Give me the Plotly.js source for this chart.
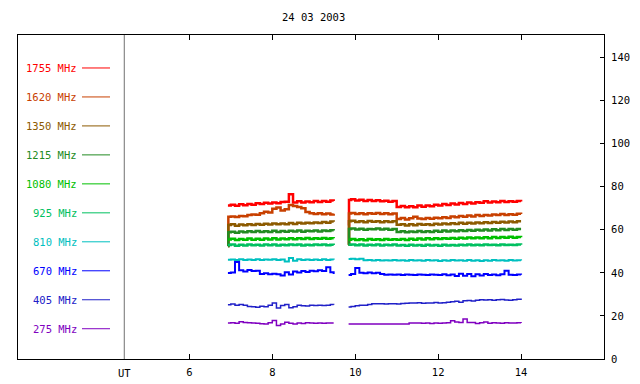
<!DOCTYPE html>
<html>
<head>
<meta charset="utf-8">
<script src="https://cdn.plot.ly/plotly-3.0.1.min.js"></script>
<style>html,body{margin:0;padding:0;background:#fff}#chart{width:640px;height:384px}</style>
</head>
<body>
<div id="chart"></div>
<script>
// Time (UT hours); null separates the two observing segments
const time = [6.93, 6.94, 7.0, 7.1, 7.2, 7.3, 7.4, 7.5, 7.6, 7.7, 7.8, 7.9, 8.0, 8.1, 8.2, 8.3, 8.4, 8.5, 8.6, 8.7, 8.8, 8.9, 9.0, 9.1, 9.2, 9.3, 9.4, 9.48,
  null,
  9.84, 9.85, 9.9, 10.0, 10.1, 10.2, 10.3, 10.4, 10.5, 10.6, 10.7, 10.8, 10.9, 11.0, 11.1, 11.2, 11.3, 11.4, 11.5, 11.6, 11.7, 11.8, 11.9, 12.0, 12.1, 12.2, 12.3, 12.4, 12.5, 12.6, 12.7, 12.8, 12.9, 13.0, 13.1, 13.2, 13.3, 13.4, 13.5, 13.6, 13.7, 13.8, 13.9, 14.0];

const freqLabels = ["1755 MHz", "1620 MHz", "1350 MHz", "1215 MHz", "1080 MHz", "925 MHz", "810 MHz", "670 MHz", "405 MHz", "275 MHz"];

const f1755 = [71.3, 71.3, 71.6, 71.1, 71.8, 71.4, 72.0, 71.6, 72.3, 71.9, 72.5, 72.2, 72.7, 72.3, 72.9, 73.0, 76.5, 72.6, 73.2, 72.7, 73.1, 72.8, 73.3, 72.9, 73.4, 73.0, 73.6, 73.4,
  null,
  62.0, 73.8, 74.2, 73.6, 73.9, 73.4, 73.8, 73.3, 73.7, 73.2, 73.5, 73.0, 73.4, 70.6, 71.0, 70.4, 70.9, 70.5, 71.2, 70.7, 71.3, 70.9, 71.6, 71.2, 71.9, 71.5, 72.2, 71.7, 72.4, 71.9, 72.6, 72.2, 72.8, 72.5, 73.2, 72.7, 73.1, 72.8, 73.3, 72.9, 73.2, 73.0, 73.4, 73.1];
const f1620 = [52.5, 66.0, 66.2, 65.9, 66.4, 66.3, 66.8, 67.1, 67.0, 67.6, 68.4, 68.0, 69.8, 70.3, 68.9, 69.5, 71.5, 71.0, 70.6, 70.0, 68.2, 67.6, 67.3, 67.6, 67.2, 67.5, 67.1, 67.4,
  null,
  53.0, 67.5, 67.8, 67.3, 67.7, 67.2, 67.6, 67.4, 67.8, 67.3, 67.6, 67.2, 67.5, 65.0, 65.4, 64.8, 65.3, 66.0, 65.2, 65.0, 65.4, 65.1, 65.6, 65.3, 65.8, 65.5, 66.1, 65.8, 66.4, 66.0, 66.6, 66.2, 66.8, 66.4, 66.9, 66.6, 67.1, 66.8, 67.3, 66.9, 67.2, 67.0, 67.4, 67.3];
const f1350 = [52.5, 62.2, 62.5, 61.9, 62.4, 62.1, 62.6, 62.2, 62.7, 62.3, 62.8, 62.4, 62.9, 62.5, 62.9, 62.6, 63.1, 62.7, 63.2, 62.9, 63.3, 63.0, 63.4, 63.1, 63.6, 63.2, 63.8, 63.7,
  null,
  53.0, 63.9, 64.2, 63.6, 64.0, 63.5, 64.1, 63.7, 63.9, 63.5, 64.0, 63.6, 63.9, 62.3, 62.6, 62.0, 62.5, 62.1, 62.7, 62.3, 62.6, 62.2, 62.8, 62.4, 62.9, 62.5, 63.0, 62.7, 63.2, 62.8, 63.3, 62.9, 63.4, 63.0, 63.5, 63.1, 63.6, 63.2, 63.7, 63.4, 63.8, 63.5, 63.9, 63.9];
const f1215 = [52.5, 58.8, 59.1, 58.6, 59.2, 58.8, 59.3, 58.9, 59.4, 58.9, 59.3, 59.0, 59.5, 59.0, 59.4, 59.1, 59.5, 59.2, 59.6, 59.1, 59.5, 59.3, 59.7, 59.2, 59.6, 59.4, 59.8, 59.7,
  null,
  53.0, 60.3, 60.6, 60.1, 60.5, 60.0, 60.4, 60.2, 60.6, 60.1, 60.5, 60.0, 60.4, 59.0, 59.3, 58.8, 59.2, 58.9, 59.4, 59.0, 59.3, 58.9, 59.5, 59.1, 59.6, 59.2, 59.7, 59.3, 59.8, 59.4, 59.9, 59.5, 60.0, 59.6, 60.1, 59.7, 60.2, 59.8, 60.3, 59.9, 60.4, 60.0, 60.3, 60.3];
const f1080 = [55.5, 55.5, 55.8, 55.2, 55.7, 55.3, 55.9, 55.4, 55.8, 55.3, 55.9, 55.5, 56.0, 55.5, 55.9, 55.6, 56.1, 55.6, 56.0, 55.7, 56.2, 55.7, 56.1, 55.8, 56.2, 55.8, 56.1, 56.0,
  null,
  55.4, 55.4, 55.7, 55.2, 55.6, 55.1, 55.7, 55.3, 55.6, 55.2, 55.7, 55.3, 55.6, 55.3, 55.7, 55.2, 55.8, 55.4, 55.9, 55.5, 56.0, 55.6, 56.0, 55.7, 56.1, 55.8, 56.2, 55.8, 56.3, 55.9, 56.4, 56.0, 56.4, 56.1, 56.5, 56.1, 56.6, 56.2, 56.6, 56.3, 56.7, 56.3, 56.6, 56.5];
const f925 = [52.9, 52.9, 53.1, 52.6, 53.0, 52.7, 53.1, 52.8, 53.0, 52.7, 53.2, 52.8, 53.1, 52.7, 53.0, 52.8, 53.2, 52.9, 53.1, 52.7, 53.0, 52.8, 53.2, 52.9, 53.1, 52.8, 53.0, 52.9,
  null,
  53.0, 53.0, 53.2, 52.8, 53.1, 52.7, 53.0, 52.8, 53.1, 52.7, 53.0, 52.8, 53.1, 52.7, 52.9, 52.6, 53.0, 52.7, 52.9, 52.6, 53.0, 52.7, 52.9, 52.6, 53.0, 52.7, 52.9, 52.7, 53.0, 52.8, 53.1, 52.8, 53.0, 52.8, 53.1, 52.9, 53.0, 52.8, 53.1, 52.9, 53.0, 52.9, 53.1, 53.0];
const f810 = [46.1, 46.1, 46.2, 46.0, 46.3, 45.9, 46.2, 46.0, 46.3, 46.0, 46.2, 46.1, 46.3, 45.9, 46.2, 45.3, 46.9, 45.6, 46.3, 46.0, 46.2, 45.9, 46.2, 46.0, 46.3, 46.0, 46.2, 46.1,
  null,
  46.4, 46.4, 46.5, 46.3, 46.5, 45.8, 45.9, 45.7, 45.9, 45.7, 45.8, 45.7, 45.9, 45.7, 45.8, 45.6, 45.9, 45.7, 45.8, 45.6, 45.9, 45.7, 45.8, 45.5, 45.8, 45.6, 45.9, 45.7, 45.8, 45.6, 45.9, 45.6, 45.8, 45.5, 45.8, 45.6, 45.9, 45.7, 45.8, 45.6, 45.9, 45.7, 45.8, 45.7];
const f670 = [39.9, 39.9, 40.2, 45.0, 41.2, 40.6, 41.3, 40.8, 41.0, 39.4, 39.8, 39.3, 39.6, 39.3, 38.8, 40.3, 39.2, 40.6, 40.1, 40.8, 40.4, 41.0, 40.7, 41.2, 40.9, 42.6, 40.3, 39.5,
  null,
  39.0, 39.0, 39.4, 42.3, 40.0, 39.8, 40.1, 39.8, 40.0, 39.4, 39.1, 39.2, 39.1, 39.2, 39.0, 39.2, 39.1, 39.0, 39.2, 39.1, 39.0, 39.2, 39.1, 39.0, 39.3, 38.9, 39.2, 38.5, 39.6, 38.6, 39.5, 38.4, 39.3, 38.8, 39.4, 39.0, 39.2, 38.9, 39.3, 41.0, 39.1, 39.0, 39.2, 39.1];
const f405 = [25.2, 25.2, 25.5, 25.0, 25.3, 24.9, 24.4, 24.2, 24.0, 24.5, 24.3, 25.0, 26.0, 23.7, 24.8, 25.3, 23.8, 24.2, 25.0, 24.7, 24.6, 24.9, 24.8, 24.9, 24.8, 25.0, 25.3, 25.2,
  null,
  24.1, 24.1, 24.4, 24.7, 24.9, 25.0, 25.3, 25.7, 25.6, 25.7, 25.5, 25.6, 25.7, 25.5, 25.8, 25.9, 26.0, 26.0, 26.1, 25.9, 26.0, 26.0, 26.2, 26.0, 26.1, 26.3, 26.6, 26.8, 26.4, 27.0, 27.2, 26.9, 27.3, 27.5, 27.4, 27.5, 27.3, 27.5, 27.6, 27.4, 27.3, 27.5, 27.7, 27.4];
const f275 = [16.7, 16.7, 16.8, 16.6, 17.3, 16.9, 16.8, 16.7, 16.6, 16.4, 16.3, 16.8, 17.9, 15.6, 16.2, 17.1, 16.6, 16.2, 16.7, 16.5, 16.8, 16.7, 16.6, 16.7, 16.6, 16.7, 16.7, 16.7,
  null,
  16.2, 16.2, 16.2, 16.2, 16.2, 16.3, 16.2, 16.2, 16.2, 16.2, 16.2, 16.2, 16.2, 16.2, 16.2, 16.3, 16.7, 16.7, 16.7, 16.6, 16.7, 16.5, 16.7, 16.6, 16.7, 16.8, 17.8, 17.2, 17.0, 18.6, 16.9, 17.0, 16.5, 16.8, 17.2, 16.6, 16.8, 16.7, 16.6, 16.8, 16.7, 16.7, 16.8, 16.7];

const xTickVals = [6, 8, 10, 12, 14];
const xTickText = ["6", "8", "10", "12", "14"];
const yTickVals = [0, 20, 40, 60, 80, 100, 120, 140];
const yTickText = ["0", "20", "40", "60", "80", "100", "120", "140"];

const seriesValues = [f1755, f1620, f1350, f1215, f1080, f925, f810, f670, f405, f275];
const colors = ["#ff0000", "#c84000", "#8c5a00", "#228b22", "#00c000", "#00c060", "#00c0c0", "#0000ff", "#2020c8", "#8000c0"];
const widths = [2.5, 2.5, 2.5, 2.5, 2.5, 2.5, 2, 2, 1.5, 1.5];

const FONT = "DejaVu Sans Mono, Liberation Mono, monospace";

const traces = seriesValues.map((v, i) => ({
  type: "scatter", mode: "lines", x: time, y: v, name: freqLabels[i],
  line: {color: colors[i], width: widths[i], shape: "hv"},
  connectgaps: false, hoverinfo: "skip", showlegend: false
}));

// Label column on the left of the UT divider (paper coordinates)
const annotations = [];
const shapes = [];
const plotTop = 35, plotBottom = 359.3, plotH = plotBottom - plotTop;
freqLabels.forEach((lab, i) => {
  const py = 68 + i * 29;
  const yp = (plotBottom - py) / plotH;
  annotations.push({xref: "paper", yref: "paper", x: (79 - 18) / 586, y: yp, xanchor: "right", yanchor: "middle",
    text: lab, showarrow: false, font: {family: FONT, size: 10.5, color: colors[i]}});
  shapes.push({type: "line", xref: "paper", yref: "paper", x0: (82 - 18) / 586, x1: (110 - 18) / 586, y0: yp, y1: yp,
    line: {color: colors[i], width: 1}});
});
// UT divider
shapes.push({type: "line", xref: "x", yref: "paper", x0: 4.43, x1: 4.43, y0: 0, y1: 1, line: {color: "#707070", width: 1}});
annotations.push({xref: "x", yref: "paper", x: 4.43, y: -0.018, xanchor: "center", yanchor: "top",
  text: "UT", showarrow: false, font: {family: FONT, size: 10.5, color: "#000"}});

const layout = {
  width: 640, height: 384,
  margin: {l: 18, r: 36, t: 35, b: 25, pad: 0},
  paper_bgcolor: "#ffffff", plot_bgcolor: "#ffffff",
  font: {family: FONT, size: 10.5, color: "#000"},
  title: {text: "24 03 2003", x: 0.49, xanchor: "center", y: 0.955, yanchor: "middle", font: {family: FONT, size: 10.5, color: "#000"}},
  xaxis: {range: [1.867, 16.0], showgrid: false, zeroline: false, showline: true, mirror: "ticks",
    linecolor: "#000", linewidth: 1, ticks: "inside", ticklen: 5, tickcolor: "#000",
    tickvals: xTickVals, ticktext: xTickText, tickfont: {family: FONT, size: 10.5}, ticklabelstandoff: 3},
  yaxis: {range: [0, 150.4], side: "right", showgrid: false, zeroline: false, showline: true, mirror: true,
    linecolor: "#000", linewidth: 1, ticks: "inside", ticklen: 4, tickcolor: "#000",
    tickvals: yTickVals, ticktext: yTickText, tickfont: {family: FONT, size: 10.5}, ticklabelstandoff: 4},
  annotations: annotations,
  shapes: shapes,
  showlegend: false
};

Plotly.newPlot("chart", traces, layout, {staticPlot: true, displayModeBar: false});
</script>
</body>
</html>
